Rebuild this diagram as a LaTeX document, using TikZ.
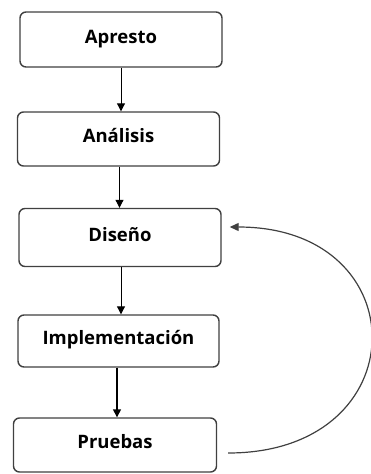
\documentclass[tikz,border=0pt]{standalone}
\usepackage{fontspec}
\setsansfont{Open Sans}
\usetikzlibrary{arrows.meta}
\begin{document}
\begin{tikzpicture}[x=1pt,y=-1pt,
  phase/.style={draw=black!75, line width=1.4pt, rounded corners=6pt, fill=white,
    minimum width=202pt, inner sep=0pt, text height=14pt, text depth=7pt,
    font=\sffamily\bfseries\fontsize{18.5}{22}\selectfont},
  flow/.style={draw=black, line width=1pt, -{Triangle[width=8pt,length=8pt]}}]
  \useasboundingbox (0,0) rectangle (371,474);
  % process stages
  \node[phase, minimum height=55pt] (apresto) at (121,39.5) {Apresto};
  \node[phase, minimum height=54pt] (analisis) at (118.5,139) {Análisis};
  \node[phase, minimum height=58pt] (diseno) at (120,237.5) {Diseño};
  \node[phase, minimum height=52pt, minimum width=201pt] (impl) at (118.5,341) {Implementación};
  \node[phase, minimum height=54pt, minimum width=203pt] (pruebas) at (115,445) {Pruebas};
  % sequential flow
  \draw[flow] (apresto.south) -- (apresto.south |- analisis.north);
  \draw[flow] ([xshift=1pt]analisis.south) -- ([xshift=1pt]analisis.south |- diseno.north);
  \draw[flow] ([xshift=1pt]diseno.south) -- ([xshift=1pt]diseno.south |- impl.north);
  \draw[flow, line width=1.4pt] ([xshift=-1.5pt]impl.south) -- ([xshift=-1.5pt]impl.south |- pruebas.north);
  % feedback loop from testing back to design
  \coordinate (loopstart) at ([xshift=11pt,yshift=-8pt]pruebas.east);
  \coordinate (loopend) at ([xshift=8pt,yshift=10.5pt]diseno.east);
  \draw[draw=black!75, line width=1.2pt, -{Triangle[width=8pt,length=9pt]}]
    (loopstart) .. controls +(190,0) and +(189,0) .. (loopend);
\end{tikzpicture}
\end{document}
